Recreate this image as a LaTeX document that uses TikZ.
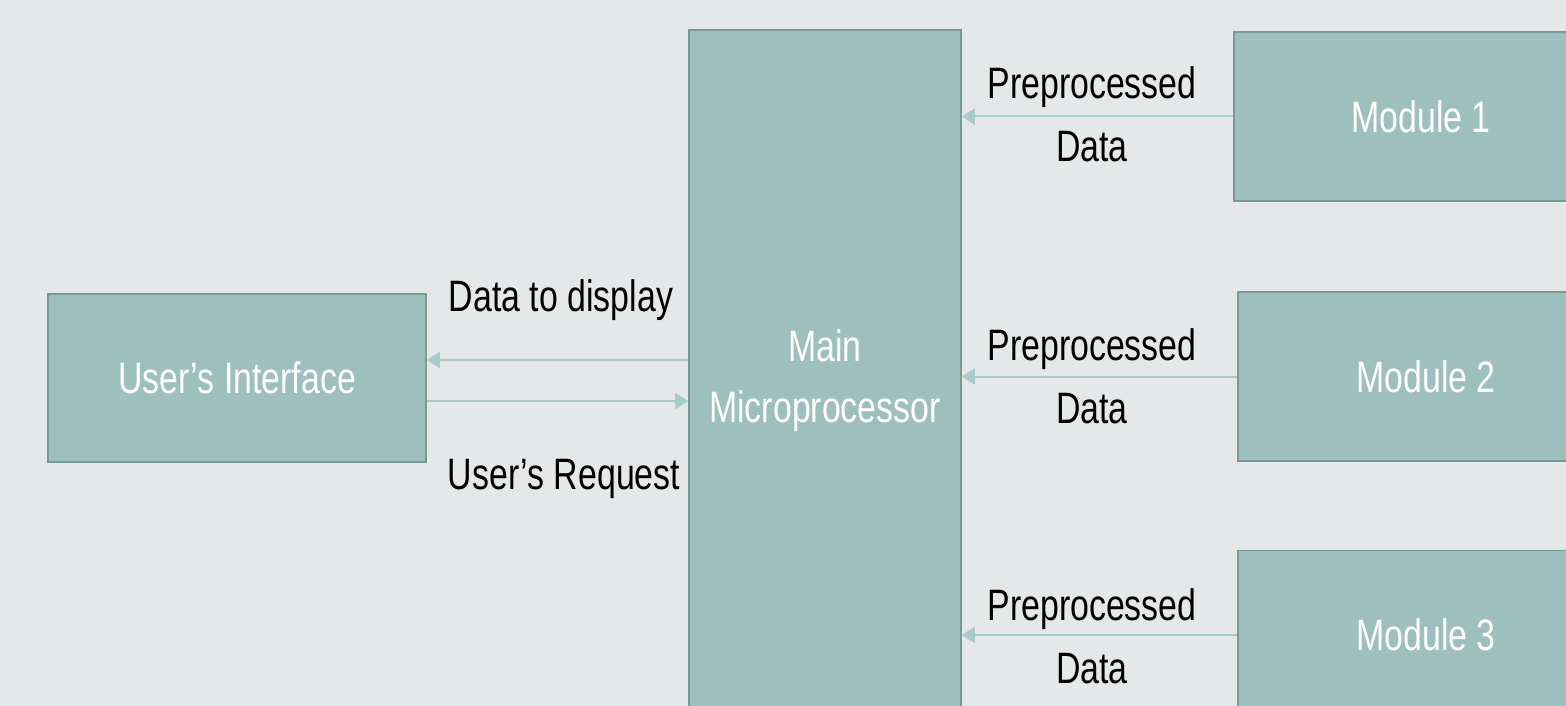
\documentclass[tikz,border=0pt]{standalone}
\usepackage{fontspec}
\setmainfont[FakeStretch=0.77]{Liberation Sans}
\usetikzlibrary{arrows.meta}
\definecolor{bgc}{RGB}{228,232,233}
\definecolor{boxfill}{RGB}{157,191,190}
\definecolor{boxline}{RGB}{122,152,150}
\definecolor{arrc}{RGB}{168,204,203}
\tikzset{
  blk/.style={draw=boxline, line width=1.6pt, fill=boxfill, text=white, align=center, inner sep=0pt},
  lbl/.style={text=black, anchor=base, inner sep=0pt},
  arr/.style={draw=arrc, line width=2pt, -{Triangle[length=13pt,width=16pt]}},
}
\begin{document}
\begin{tikzpicture}[x=1pt,y=-1pt,font=\fontsize{44}{61}\selectfont]
\useasboundingbox (0,0) rectangle (1566,706);
\fill[bgc] (0,0) rectangle (1566,706);
\clip (0,0) rectangle (1566,706);
\node[blk, minimum width=378pt, minimum height=168pt] (ui) at (237,378) {User’s Interface};
\node[blk, minimum width=272pt, minimum height=702pt] (main) at (825,381) {Main\\Microprocessor};
\node[blk, minimum width=374pt, minimum height=169pt] (m1) at (1421,116.5) {Module 1};
\node[blk, minimum width=376pt, minimum height=169pt] (m2) at (1426,376.5) {Module 2};
\node[blk, minimum width=376pt, minimum height=169pt] (m3) at (1426,635) {Module 3};
\coordinate (dd) at (0,360);
\coordinate (ur) at (0,401);
\draw[arr] (main.west |- dd) -- (ui.east |- dd);
\draw[arr] (ui.east |- ur) -- (main.west |- ur);
\draw[arr] (m1.west) -- (m1.west -| main.east);
\draw[arr] (m2.west) -- (m2.west -| main.east);
\draw[arr] (m3.west) -- (m3.west -| main.east);
\node[lbl] (ldd) at (561,311) {Data to display};
\node[lbl] (lur) at (564,489) {User’s Request};
\node[lbl] (p1a) at (1092,99) {Preprocessed};
\node[lbl] (p1b) at (1092,161) {Data};
\node[lbl] (p2a) at (1092,360) {Preprocessed};
\node[lbl] (p2b) at (1092,423) {Data};
\node[lbl] (p3a) at (1092,620) {Preprocessed};
\node[lbl] (p3b) at (1092,683) {Data};
\end{tikzpicture}
\end{document}
